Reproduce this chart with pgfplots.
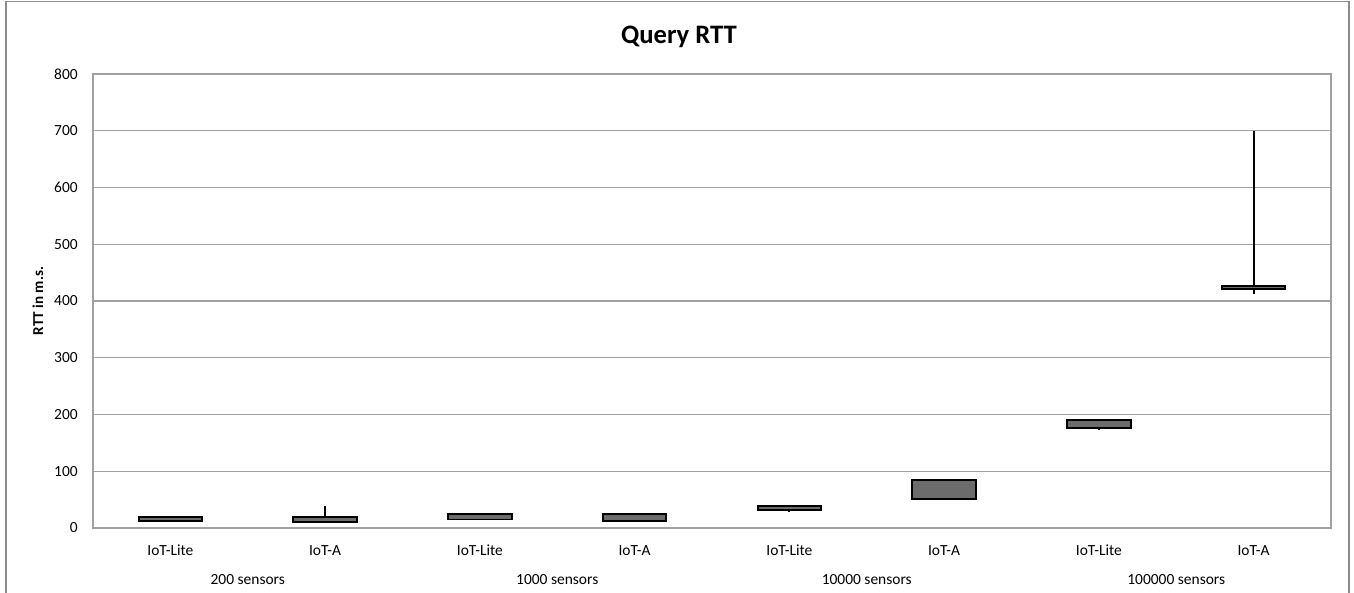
\documentclass[border=0pt]{standalone}
\usepackage{fontspec}
\setmainfont{Carlito}
\usepackage{pgfplots}
\pgfplotsset{compat=1.18}
\definecolor{boxgray}{RGB}{108,108,108}
\definecolor{gridgray}{RGB}{160,160,160}
\definecolor{framegray}{RGB}{140,140,140}
\begin{document}
\begin{tikzpicture}
\useasboundingbox (0pt,0pt) rectangle (1015.5pt,444.75pt);
\draw[framegray, line width=1.1pt] (4.5pt,0pt) -- (4.5pt,443.6pt) -- (1011.75pt,443.6pt) -- (1011.75pt,0pt);
\node[anchor=base, font=\fontsize{20}{24}\selectfont\bfseries] at (509.25pt,411.75pt) {Query RTT};
\node[rotate=90, font=\fontsize{11.3}{13}\selectfont\bfseries] at (28.5pt,219pt) {RTT in m.s.};
\begin{axis}[
  at={(69.75pt,48.75pt)}, anchor=south west,
  width=928.5pt, height=340.5pt, scale only axis,
  xmin=0, xmax=8, ymin=0, ymax=800,
  xtick={0.5,1.5,2.5,3.5,4.5,5.5,6.5,7.5},
  xticklabels={IoT-Lite,IoT-A,IoT-Lite,IoT-A,IoT-Lite,IoT-A,IoT-Lite,IoT-A},
  ytick={0,100,...,800},
  major tick length=0pt,
  ymajorgrids,
  grid style={gridgray, line width=1.1pt},
  axis line style={gridgray, line width=1.1pt},
  /pgf/number format/assume math mode=true,
  tick label style={font=\fontsize{11.6}{13}\selectfont},
  xticklabel style={anchor=base, inner sep=0pt, yshift=-20.25pt},
  yticklabel style={anchor=east, inner sep=0pt, xshift=-11.25pt},
  clip=false,
  whisk/.style={black, line width=1.35pt, no markers},
  box/.style={fill=boxgray, draw=black, line width=1.45pt, line join=miter, no markers},
]
% whiskers (high-low lines)
\addplot[whisk] coordinates {(1.5,11) (1.5,39)};
\addplot[whisk] coordinates {(4.5,28) (4.5,41)};
\addplot[whisk] coordinates {(6.5,173) (6.5,191)};
\addplot[whisk] coordinates {(7.5,413) (7.5,700)};
% boxes (lower quartile to upper quartile)
\addplot[box] coordinates {(0.295,12) (0.705,12) (0.705,20) (0.295,20)} -- cycle;
\addplot[box] coordinates {(1.295,11) (1.705,11) (1.705,20) (1.295,20)} -- cycle;
\addplot[box] coordinates {(2.295,15) (2.705,15) (2.705,24) (2.295,24)} -- cycle;
\addplot[box] coordinates {(3.295,13) (3.705,13) (3.705,25) (3.295,25)} -- cycle;
\addplot[box] coordinates {(4.295,31) (4.705,31) (4.705,38) (4.295,38)} -- cycle;
\addplot[box] coordinates {(5.295,51) (5.705,51) (5.705,85) (5.295,85)} -- cycle;
\addplot[box] coordinates {(6.295,177) (6.705,177) (6.705,191) (6.295,191)} -- cycle;
\addplot[box] coordinates {(7.295,421) (7.705,421) (7.705,426) (7.295,426)} -- cycle;
\node[anchor=base, font=\fontsize{11.6}{13}\selectfont] at (axis cs:1,0) [yshift=-42pt] {200 sensors};
\node[anchor=base, font=\fontsize{11.6}{13}\selectfont] at (axis cs:3,0) [yshift=-42pt] {1000 sensors};
\node[anchor=base, font=\fontsize{11.6}{13}\selectfont] at (axis cs:5,0) [yshift=-42pt] {10000 sensors};
\node[anchor=base, font=\fontsize{11.6}{13}\selectfont] at (axis cs:7,0) [yshift=-42pt] {100000 sensors};
\end{axis}
\end{tikzpicture}
\end{document}
